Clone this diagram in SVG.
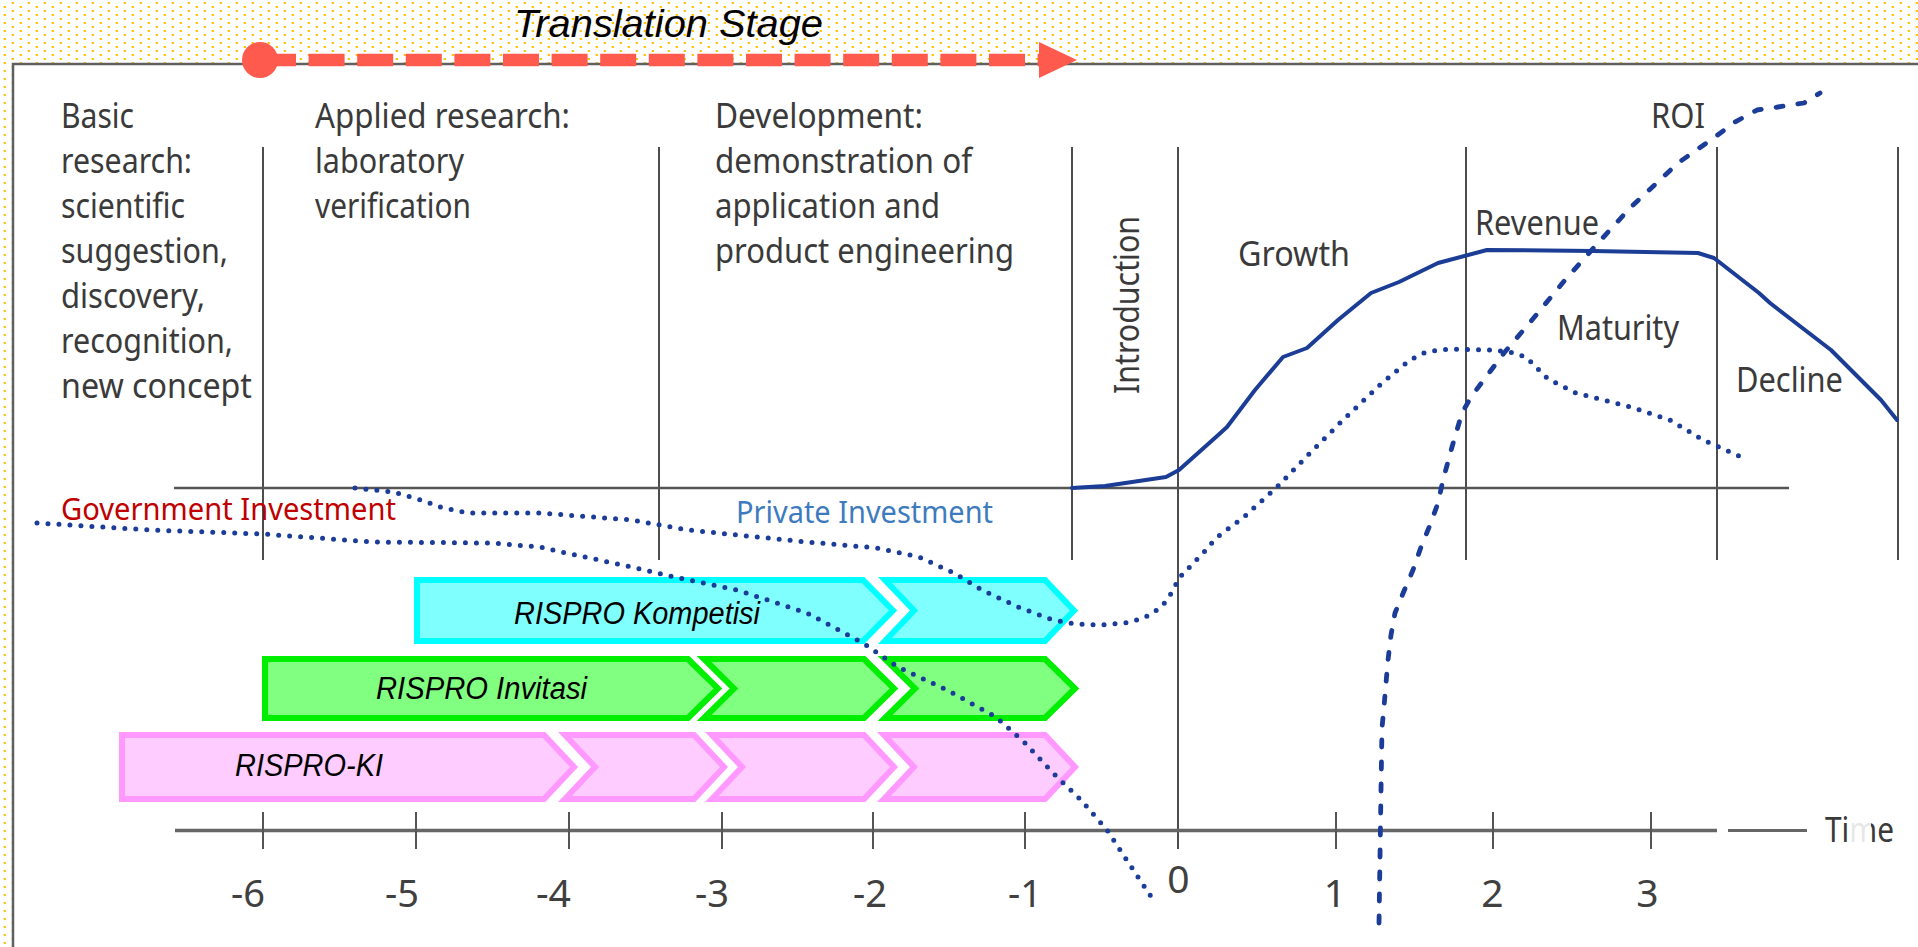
<svg xmlns="http://www.w3.org/2000/svg" width="1918" height="947" viewBox="0 0 1918 947">
<defs>
<pattern id="dots" width="16" height="8" patternUnits="userSpaceOnUse">
<rect x="3.7" y="6" width="2.2" height="2" fill="#FFC000"/>
<rect x="11.7" y="2" width="2.2" height="2" fill="#FFC000"/>
</pattern>
<style>
.t{font-family:"Noto Sans","Open Sans","DejaVu Sans",sans-serif;font-size:35px;fill:#3a3a3a}
.n{font-family:"Noto Sans","Open Sans","DejaVu Sans",sans-serif;font-size:39px;fill:#404040}
.it{font-family:"Liberation Sans",Arial,sans-serif;font-style:italic;fill:#000}
.vl{stroke:#4d4d4d;stroke-width:2;fill:none}
.tick{stroke:#555;stroke-width:2}
.dot{fill:none;stroke:#1B3C98;stroke-width:5;stroke-linecap:round;stroke-dasharray:0 11;stroke-linejoin:round}
.dash{fill:none;stroke:#1B3C98;stroke-width:4.8;stroke-linecap:round;stroke-dasharray:7 15;stroke-linejoin:round}
.solid{fill:none;stroke:#1C3D95;stroke-width:4;stroke-linejoin:round;stroke-linecap:round}
.cy{fill:#80FFFF;stroke:#00FFFF;stroke-width:6}
.gr{fill:#80FF80;stroke:#00EE00;stroke-width:6}
.pk{fill:#FFCCFF;stroke:#FF99FF;stroke-width:6}
</style>
</defs>
<rect x="0" y="0" width="1918" height="947" fill="#fff"/>
<rect x="0" y="0" width="1918" height="947" fill="url(#dots)"/>
<rect id="panel" x="13" y="64" width="1915" height="900" fill="#fff" stroke="#606060" stroke-width="2.5"/>

<g id="grid">
<line class="vl" x1="263" y1="147" x2="263" y2="560"/>
<line class="vl" x1="659" y1="147" x2="659" y2="560"/>
<line class="vl" x1="1072" y1="147" x2="1072" y2="560"/>
<line class="vl" x1="1178" y1="147" x2="1178" y2="849"/>
<line class="vl" x1="1466" y1="147" x2="1466" y2="560"/>
<line class="vl" x1="1717" y1="147" x2="1717" y2="560"/>
<line class="vl" x1="1898" y1="147" x2="1898" y2="560"/>
<line x1="174" y1="488" x2="1789" y2="488" stroke="#555" stroke-width="2.5"/>
<line x1="175" y1="830.5" x2="1717" y2="830.5" stroke="#666" stroke-width="3.5"/>
<line x1="1728" y1="830.5" x2="1807" y2="830.5" stroke="#666" stroke-width="3"/>
<line class="tick" x1="263" y1="812" x2="263" y2="849"/>
<line class="tick" x1="416" y1="812" x2="416" y2="849"/>
<line class="tick" x1="569" y1="812" x2="569" y2="849"/>
<line class="tick" x1="722" y1="812" x2="722" y2="849"/>
<line class="tick" x1="873" y1="812" x2="873" y2="849"/>
<line class="tick" x1="1025" y1="812" x2="1025" y2="849"/>
<line class="tick" x1="1336" y1="812" x2="1336" y2="849"/>
<line class="tick" x1="1493" y1="812" x2="1493" y2="849"/>
<line class="tick" x1="1651" y1="812" x2="1651" y2="849"/>
</g>

<g id="axis-labels">
<text class="n" x="231" y="907" textLength="34" lengthAdjust="spacingAndGlyphs">-6</text>
<text class="n" x="385" y="907" textLength="34" lengthAdjust="spacingAndGlyphs">-5</text>
<text class="n" x="536" y="907" textLength="35" lengthAdjust="spacingAndGlyphs">-4</text>
<text class="n" x="695" y="907" textLength="34" lengthAdjust="spacingAndGlyphs">-3</text>
<text class="n" x="853" y="907" textLength="34" lengthAdjust="spacingAndGlyphs">-2</text>
<text class="n" x="1008" y="907" textLength="34" lengthAdjust="spacingAndGlyphs">-1</text>
<text class="n" x="1178.5" y="893" text-anchor="middle">0</text>
<text class="n" x="1335" y="907" text-anchor="middle">1</text>
<text class="n" x="1492.5" y="907" text-anchor="middle">2</text>
<text class="n" x="1647.5" y="907" text-anchor="middle">3</text>
<text class="t" x="1825" y="842" textLength="69" lengthAdjust="spacingAndGlyphs">Time</text>
<rect x="1849" y="822" width="22" height="22" fill="#fff" opacity="0.88"/>
</g>

<g id="stage-labels">
<text class="t" x="61" y="128" textLength="73" lengthAdjust="spacingAndGlyphs">Basic</text>
<text class="t" x="61" y="173" textLength="131" lengthAdjust="spacingAndGlyphs">research:</text>
<text class="t" x="61" y="218" textLength="124" lengthAdjust="spacingAndGlyphs">scientific</text>
<text class="t" x="61" y="263" textLength="167" lengthAdjust="spacingAndGlyphs">suggestion,</text>
<text class="t" x="61" y="308" textLength="144" lengthAdjust="spacingAndGlyphs">discovery,</text>
<text class="t" x="61" y="353" textLength="172" lengthAdjust="spacingAndGlyphs">recognition,</text>
<text class="t" x="61" y="398" textLength="191" lengthAdjust="spacingAndGlyphs">new concept</text>
<text class="t" x="315" y="128" textLength="255" lengthAdjust="spacingAndGlyphs">Applied research:</text>
<text class="t" x="315" y="173" textLength="149" lengthAdjust="spacingAndGlyphs">laboratory</text>
<text class="t" x="315" y="218" textLength="156" lengthAdjust="spacingAndGlyphs">verification</text>
<text class="t" x="715" y="128" textLength="208" lengthAdjust="spacingAndGlyphs">Development:</text>
<text class="t" x="715" y="173" textLength="257" lengthAdjust="spacingAndGlyphs">demonstration of</text>
<text class="t" x="715" y="218" textLength="225" lengthAdjust="spacingAndGlyphs">application and</text>
<text class="t" x="715" y="263" textLength="299" lengthAdjust="spacingAndGlyphs">product engineering</text>
<text class="t" transform="translate(1139,394) rotate(-90)" x="0" y="0" textLength="178" lengthAdjust="spacingAndGlyphs">Introduction</text>
<text class="t" x="1238" y="266" textLength="112" lengthAdjust="spacingAndGlyphs">Growth</text>
<text class="t" x="1475" y="235" textLength="124" lengthAdjust="spacingAndGlyphs">Revenue</text>
<text class="t" x="1557" y="340" textLength="122" lengthAdjust="spacingAndGlyphs">Maturity</text>
<text class="t" x="1736" y="392" textLength="107" lengthAdjust="spacingAndGlyphs">Decline</text>
<text class="t" x="1651" y="128" textLength="54" lengthAdjust="spacingAndGlyphs">ROI</text>
</g>

<g id="chevrons">
<g id="kompetisi">
<polygon class="cy" points="417,580 863,580 893,610.5 863,641 417,641"/>
<polygon class="cy" points="885,580 1045,580 1074,610.5 1045,641 885,641 914,610.5"/>
<text class="it" x="514" y="624" font-size="31" textLength="246" lengthAdjust="spacingAndGlyphs">RISPRO Kompetisi</text>
</g>
<g id="invitasi">
<polygon class="gr" points="265,659 688,659 718,688.5 688,718 265,718"/>
<polygon class="gr" points="704,659 864,659 894,688.5 864,718 704,718 734,688.5"/>
<polygon class="gr" points="885,659 1045,659 1075,688.5 1045,718 885,718 915,688.5"/>
<text class="it" x="376" y="699" font-size="31" textLength="211" lengthAdjust="spacingAndGlyphs">RISPRO Invitasi</text>
</g>
<g id="ki">
<polygon class="pk" points="122,735 544,735 574,767 544,799 122,799"/>
<polygon class="pk" points="565,735 694,735 724,767 694,799 565,799 595,767"/>
<polygon class="pk" points="712,735 864,735 894,767 864,799 712,799 742,767"/>
<polygon class="pk" points="884,735 1045,735 1075,767 1045,799 884,799 914,767"/>
<text class="it" x="235" y="776" font-size="31" textLength="148" lengthAdjust="spacingAndGlyphs">RISPRO-KI</text>
</g>
</g>

<g id="curves">
<polyline class="solid" points="1072,488 1105,486 1166,477 1179,470 1216,437 1227,427 1255,390 1283,357 1307,348 1338,320 1371,293 1399,282 1438,263 1487,250 1593,251 1698,253 1714,258 1759,293 1770,303 1831,350 1881,400 1897,420"/>
<polyline class="dot" points="355,488 393,492 421,500 440,507 467,513 540,513 632,520 688,530 737,535 807,542 877,548 919,557 954,573 982,590 1018,607 1053,620 1076,624 1100,625 1125,623 1144,618 1160,608 1168,599 1180,577 1205,551 1216,538 1244,517 1277,487 1310,453 1343,420 1382,383 1410,360 1426,352 1449,349 1490,350 1510,352 1526,357 1548,379 1576,393 1631,407 1670,420 1703,440 1748,460"/>
<polyline class="dot" points="37,523 150,530 263,534 373,542 491,543 540,547 561,552 632,567 674,577 737,590 807,613 863,643 898,667 947,690 996,717 1025,743 1053,773 1081,800 1107,830 1130,865 1150,895 1156,903"/>
<polyline class="dash" points="1379,923 1381,790 1382,728 1384,707 1386,683 1388,660 1391,635 1395,613 1404,591 1413,570 1421,547 1430,525 1438,503 1443,480 1452,447 1462,413 1471,397 1504,353 1532,320 1565,280 1598,243 1631,207 1678,163 1715,137 1735,122 1757,110 1778,107 1804,103 1820,93"/>
</g>

<g id="investment-labels">
<text x="61" y="520" font-family="Noto Sans, Open Sans, sans-serif" font-size="30" fill="#C00000" textLength="335" lengthAdjust="spacingAndGlyphs">Government Investment</text>
<text x="736" y="523" font-family="Noto Sans, Open Sans, sans-serif" font-size="30" fill="#3E7BBE" textLength="257" lengthAdjust="spacingAndGlyphs">Private Investment</text>
</g>

<g id="translation-stage">
<line x1="260" y1="60" x2="1040" y2="60" stroke="#FF5A4E" stroke-width="12.5" stroke-dasharray="36 12.6"/>
<circle cx="260" cy="60" r="18" fill="#FF5A4E"/>
<polygon points="1039,42 1077,60 1039,78" fill="#FF5A4E"/>
<text class="it" x="514" y="37" font-size="39" textLength="309" lengthAdjust="spacingAndGlyphs">Translation Stage</text>
</g>
</svg>
